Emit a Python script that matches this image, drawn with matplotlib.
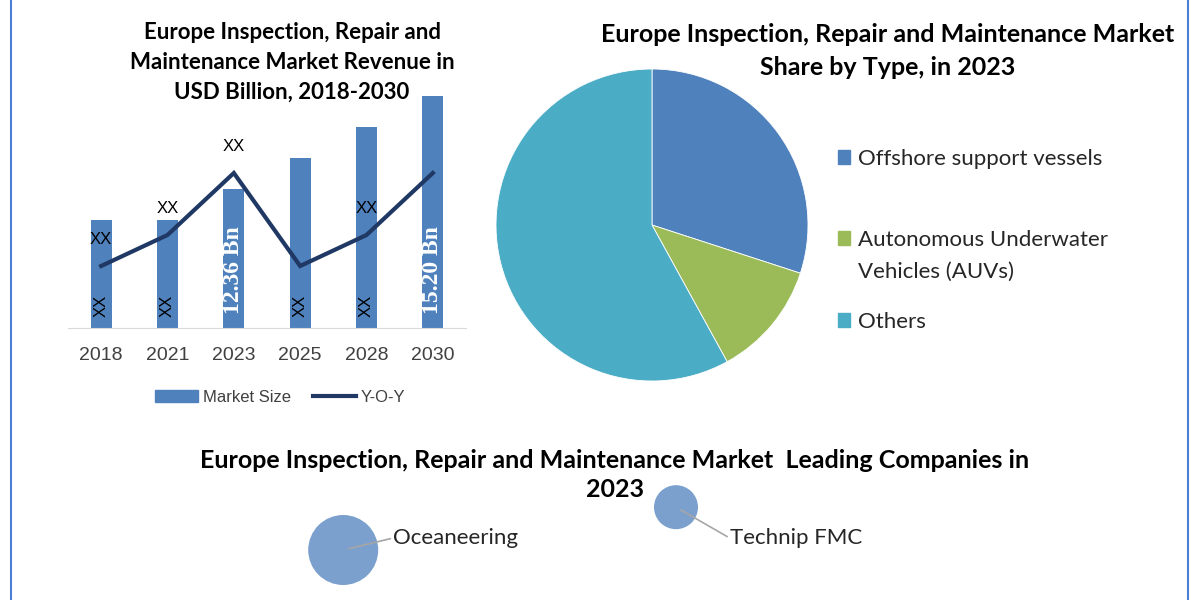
import matplotlib
matplotlib.use("Agg")
import matplotlib.pyplot as plt
from matplotlib.lines import Line2D
from matplotlib.patches import Circle, Rectangle

# --- data -----------------------------------------------------------------
years = ['2018', '2021', '2023', '2025', '2028', '2030']
market_size = [11.42, 11.42, 12.36, 13.31, 14.25, 15.20]   # USD Bn
yoy = [2, 3, 5, 2, 3, 5]
bar_labels = ['XX', 'XX', '12.36 Bn', 'XX', 'XX', '15.20 Bn']
line_labels = ['XX', 'XX', 'XX', '', 'XX', '']

pie_labels = ['Offshore support vessels', 'Autonomous Underwater\nVehicles (AUVs)', 'Others']
pie_shares = [30, 12, 58]
pie_colors = ['#4F81BD', '#9BBB59', '#4BACC6']

companies = ['Oceaneering', 'Technip FMC']
bubble_x = [1.79, 5.95]
bubble_y = [0.625, 1.16]
bubble_size = [0.875, 0.55]

CAL = 'Lato'
ARI = 'Liberation Sans'
W, H = 1200, 600

fig = plt.figure(figsize=(12, 6), dpi=100)
fig.patch.set_facecolor('white')

def fx(px):
    return px / W

def fy(py):
    return 1 - py / H

# blue frame lines on left and right
for xp in (11, 1188):
    fig.add_artist(Line2D([fx(xp)] * 2, [0, 1], color='#4a7fd4', lw=1.5))

# --- bar + line chart -----------------------------------------------------
ax = fig.add_axes([fx(68), fy(328), fx(466 - 68), 238 / H])
xs = list(range(len(years)))
ymin, ymax = 8.12, 15.38
ax.bar(xs, market_size, width=0.32, color='#4F81BD', label='Market Size')
ax.set_ylim(ymin, ymax)
ax.set_xlim(-0.5, 5.5)
ax.set_yticks([])
ax.set_xticks(xs)
ax.set_xticklabels(years, fontsize=14, color='#404040', family=ARI)
ax.tick_params(axis='x', length=0, pad=14)
for s in ['top', 'right', 'left']:
    ax.spines[s].set_visible(False)
ax.spines['bottom'].set_color('#d9d9d9')

for i, lab in enumerate(bar_labels):
    if lab == 'XX':
        ax.annotate(lab, xy=(i, ymin), xytext=(0, 8), textcoords='offset points',
                    rotation=90, ha='center', va='bottom', fontsize=12, family=ARI, color='black')
    else:
        ax.annotate(lab, xy=(i, ymin), xytext=(0, 10), textcoords='offset points',
                    rotation=90, ha='center', va='bottom', fontsize=17, fontweight='bold',
                    family='Liberation Serif', color='white')

ax2 = ax.twinx()
ax2.set_ylim(0, 238 / 31)
ax2.plot(xs, yoy, color='#1F3864', lw=3, label='Y-O-Y', solid_joinstyle='miter')
ax2.axis('off')
for i, lab in enumerate(line_labels):
    if lab:
        ax2.annotate(lab, xy=(i, yoy[i]), xytext=(0, 19), textcoords='offset points',
                     ha='center', va='center', fontsize=12, family=ARI, color='black')

handles = [Rectangle((0, 0), 1, 1, color='#4F81BD'), Line2D([], [], color='#1F3864', lw=3)]
leg = fig.legend(handles, ['Market Size', 'Y-O-Y'], loc='center', bbox_to_anchor=(fx(280), fy(397)),
                 ncol=2, frameon=False, handlelength=2.6, handletextpad=0.3, columnspacing=1.3,
                 prop={'family': ARI, 'size': 12})
for t in leg.get_texts():
    t.set_color('#404040')

fig.text(fx(292), fy(62.5), 'Europe Inspection, Repair and\nMaintenance Market Revenue in\nUSD Billion, 2018-2030',
         ha='center', va='center', fontsize=16, fontweight='bold', family=CAL, linespacing=1.52)

# --- pie chart ------------------------------------------------------------
r = 156
axp = fig.add_axes([fx(652 - r), fy(225 + r), fx(2 * r), 2 * r / H])
axp.pie(pie_shares, colors=pie_colors, startangle=90, counterclock=False, radius=1,
        wedgeprops={'linewidth': 0.6, 'edgecolor': 'white'})
axp.set_xlim(-1, 1)
axp.set_ylim(-1, 1)
axp.axis('off')

fig.text(fx(888), fy(51), 'Europe Inspection, Repair and Maintenance Market\nShare by Type, in 2023',
         ha='center', va='center', fontsize=18, fontweight='bold', family=CAL, linespacing=1.54)

leg_y = [157, 238, 320]
for lab, col, yp in zip(pie_labels, pie_colors, leg_y):
    fig.add_artist(Rectangle((fx(838), fy(yp + 7)), fx(12), 14 / H, color=col,
                             transform=fig.transFigure))
    fig.text(fx(858), fy(yp - 8), lab, ha='left', va='top', fontsize=16,
             family=CAL, color='#262626', linespacing=1.74)

# --- bubble chart ---------------------------------------------------------
fig.text(fx(615), fy(475), 'Europe Inspection, Repair and Maintenance Market  Leading Companies in\n2023',
         ha='center', va='center', fontsize=18, fontweight='bold', family=CAL, linespacing=1.35)

axb = fig.add_axes([fx(200), 0, fx(800), 120 / H])
axb.set_xlim(0, 10)
axb.set_ylim(0, 1.5)
axb.axis('off')
axb.patch.set_alpha(0)
label_off = [(50, 12), (54, -31)]
for name, bx, by, bs, off in zip(companies, bubble_x, bubble_y, bubble_size, label_off):
    axb.add_patch(Circle((bx, by), bs / 2, color='#4F81BD', alpha=0.75, lw=0))
    axb.annotate(name, xy=(bx, by), xytext=off, textcoords='offset pixels', ha='left', va='center',
                 fontsize=16, family=CAL, color='#262626',
                 arrowprops=dict(arrowstyle='-', color='#a6a6a6', lw=1.2, shrinkA=0, shrinkB=4,
                                 relpos=(0, 0.5)))

fig.savefig('out.png', dpi=100, facecolor='white')
